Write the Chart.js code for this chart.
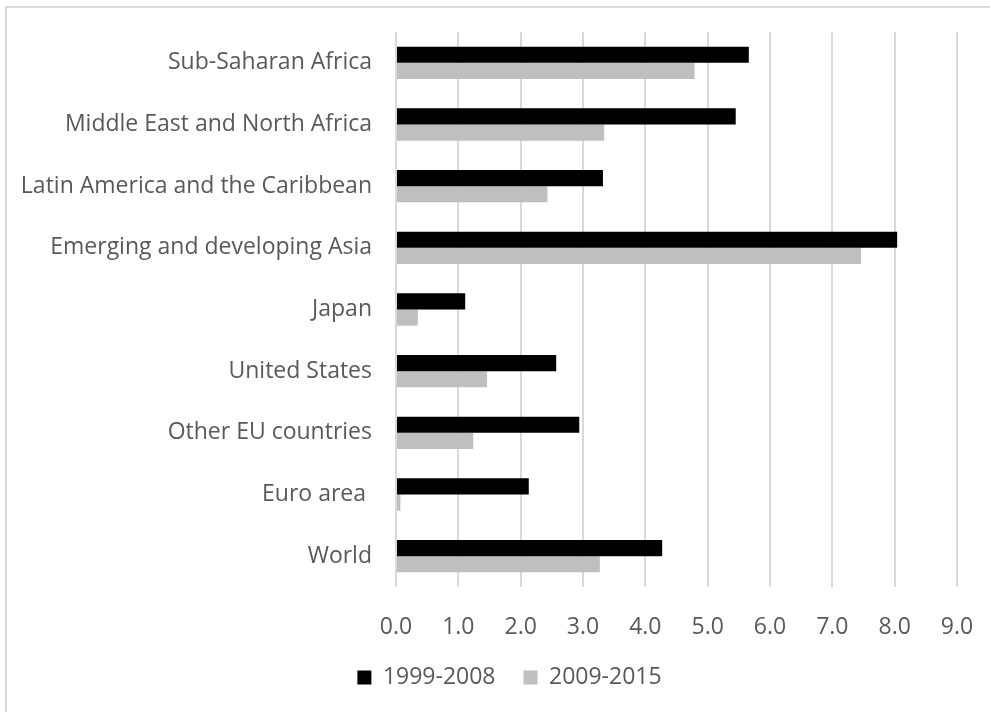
<!DOCTYPE html>
<html>
<head>
<meta charset="utf-8">
<script src="https://cdn.jsdelivr.net/npm/chart.js@4"></script>
<style>
  html, body { margin: 0; padding: 0; background: #ffffff; }
  #frame {
    position: absolute; left: 5px; top: 6px; width: 1000px; height: 720px;
    border-left: 2px solid #d9d9d9; border-top: 2px solid #d9d9d9;
  }
  #wrap { position: absolute; left: 0; top: 0; width: 990px; height: 712px; }
</style>
</head>
<body>
<div id="frame"></div>
<div id="wrap"><canvas id="chart" width="990" height="712"></canvas></div>
<script>
// Average annual growth by region, two periods
const regions = [
  'Sub-Saharan Africa',
  'Middle East and North Africa',
  'Latin America and the Caribbean',
  'Emerging and developing Asia',
  'Japan',
  'United States',
  'Other EU countries',
  'Euro area ',
  'World'
];
const growth1999to2008 = [5.66, 5.45, 3.32, 8.04, 1.11, 2.57, 2.94, 2.13, 4.27];
const growth2009to2015 = [4.79, 3.34, 2.43, 7.46, 0.35, 1.46, 1.24, 0.07, 3.27];
const seriesNames = ['1999-2008', '2009-2015'];

const textColor = '#595959';
const fontFamily = '"Open Sans", sans-serif';
const fontSize = 23;

// Nudge the legend so it sits a little right of the canvas centre
const legendShift = {
  id: 'legendShift',
  beforeDraw(chart) {
    const lg = chart.legend;
    if (lg && !lg._shifted) {
      lg.left += 31; lg.right += 31;
      lg._shifted = true;
    }
  }
};

new Chart(document.getElementById('chart'), {
  type: 'bar',
  data: {
    labels: regions,
    datasets: [
      { label: seriesNames[0], data: growth1999to2008, backgroundColor: '#000000' },
      { label: seriesNames[1], data: growth2009to2015, backgroundColor: '#bfbfbf' }
    ]
  },
  options: {
    indexAxis: 'y',
    responsive: false,
    animation: false,
    layout: { padding: { left: 0, right: 33, top: 32, bottom: 13 } },
    datasets: { bar: { categoryPercentage: 0.525, barPercentage: 1.0 } },
    scales: {
      x: {
        min: 0, max: 9,
        ticks: {
          stepSize: 1,
          color: textColor,
          font: { family: fontFamily, size: fontSize },
          padding: 27,
          callback: (v) => Number(v).toFixed(1)
        },
        grid: { color: '#d9d9d9', lineWidth: 2, drawTicks: false },
        border: { display: false },
        afterFit: (s) => { s.height = 51; s.paddingLeft = 0; s.paddingRight = 0; }
      },
      y: {
        ticks: {
          color: textColor,
          font: { family: fontFamily, size: fontSize },
          padding: 24
        },
        grid: { display: false, drawTicks: false },
        border: { display: false },
        afterFit: (s) => { s.width = 396; s.paddingTop = 0; s.paddingBottom = 0; }
      }
    },
    plugins: {
      legend: {
        position: 'bottom',
        labels: {
          color: textColor,
          font: { family: fontFamily, size: fontSize },
          boxWidth: 14, boxHeight: 14,
          padding: 28
        }
      },
      tooltip: { enabled: false }
    }
  },
  plugins: [legendShift]
});
</script>
</body>
</html>
